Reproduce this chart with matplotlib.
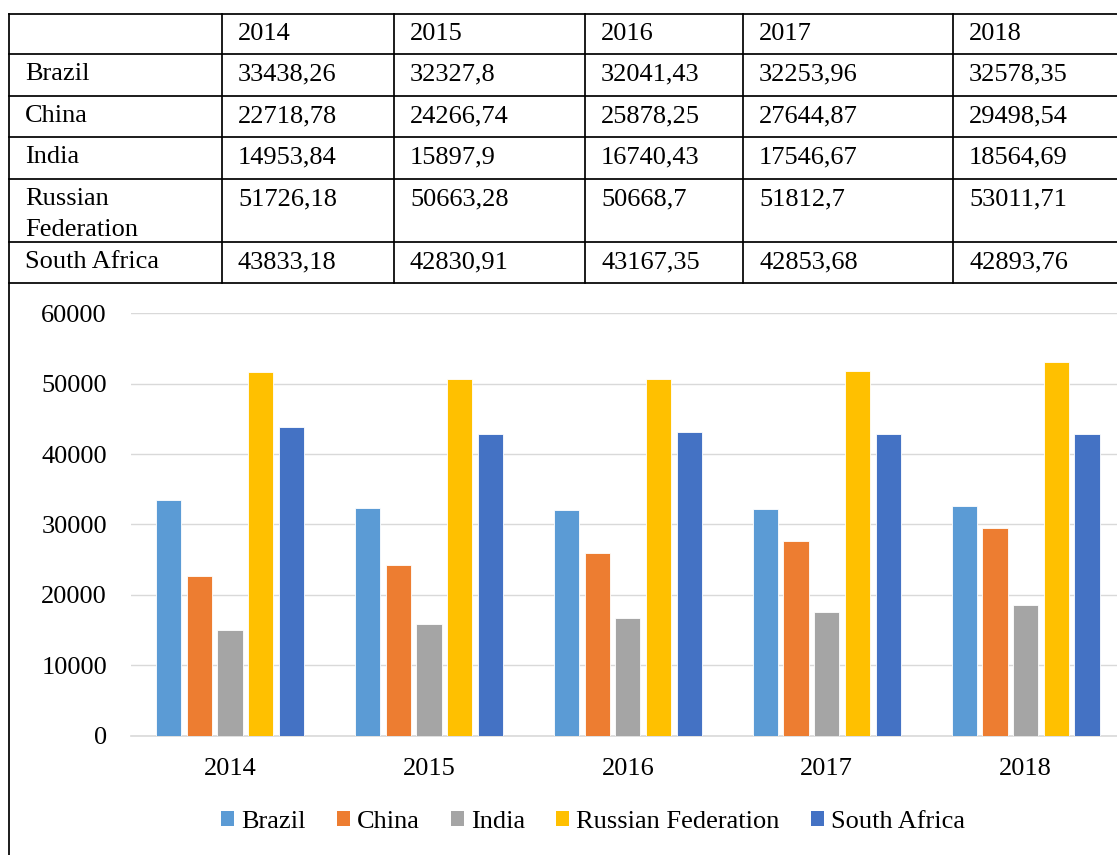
import matplotlib
matplotlib.use("Agg")
import numpy as np
import matplotlib.pyplot as plt
from matplotlib.patches import Patch
from matplotlib.lines import Line2D

# data
years = ["2014", "2015", "2016", "2017", "2018"]
countries = ["Brazil", "China", "India", "Russian Federation", "South Africa"]
brazil = [33438.26, 32327.8, 32041.43, 32253.96, 32578.35]
china = [22718.78, 24266.74, 25878.25, 27644.87, 29498.54]
india = [14953.84, 15897.9, 16740.43, 17546.67, 18564.69]
russia = [51726.18, 50663.28, 50668.7, 51812.7, 53011.71]
south_africa = [43833.18, 42830.91, 43167.35, 42853.68, 42893.76]
yticks = [0, 10000, 20000, 30000, 40000, 50000, 60000]

series = [brazil, china, india, russia, south_africa]
colors = ["#5B9BD5", "#ED7D31", "#A5A5A5", "#FFC000", "#4472C4"]

W, H = 1117, 855
FONT = "Liberation Serif"
FS = 19

fig = plt.figure(figsize=(W / 100, H / 100), dpi=100)


def fx(x):
    return x / W


def fy(y):
    return 1 - y / H


def fmt(v):
    s = f"{v:.2f}".rstrip("0").rstrip(".")
    return s.replace(".", ",")


# ---- table drawn in figure pixels
col_x = [9, 222, 394, 585, 743, 953]
row_y = [14, 54, 96, 137, 179, 242, 283]
lw = 1.25

for y in row_y:
    fig.add_artist(Line2D([fx(9), fx(W + 5)], [fy(y), fy(y)], color="black", lw=lw))
for x in col_x[1:]:
    fig.add_artist(Line2D([fx(x), fx(x)], [fy(14), fy(283)], color="black", lw=lw))
# left border of table + chart box
fig.add_artist(Line2D([fx(9), fx(9)], [fy(14), fy(H + 5)], color="black", lw=lw))

pad = 16
for j, yr in enumerate(years):
    fig.text(fx(col_x[j + 1] + pad), fy(row_y[0] + 26), yr,
             family=FONT, fontsize=FS, va="baseline", ha="left")

for i, name in enumerate(countries):
    base = row_y[i + 1] + 26
    if name == "Russian Federation":
        fig.text(fx(col_x[0] + pad), fy(base), "Russian",
                 family=FONT, fontsize=FS, va="baseline")
        fig.text(fx(col_x[0] + pad), fy(base + 31), "Federation",
                 family=FONT, fontsize=FS, va="baseline")
    else:
        fig.text(fx(col_x[0] + pad), fy(base), name,
                 family=FONT, fontsize=FS, va="baseline")
    for j, v in enumerate(series[i]):
        fig.text(fx(col_x[j + 1] + pad), fy(base), fmt(v),
                 family=FONT, fontsize=FS, va="baseline")

# ---- bar chart
ax_left, ax_right = 130.6, 130.6 + 5 * 198.9
ax_top, ax_bot = 313.3, 735.5
ax = fig.add_axes([fx(ax_left), fy(ax_bot), (ax_right - ax_left) / W, (ax_bot - ax_top) / H])

x = np.arange(len(years))
step = 0.1543
bw = 0.127
for i, (vals, c) in enumerate(zip(series, colors)):
    ax.bar(x + (i - 2) * step, vals, width=bw, color=c, edgecolor="white",
           linewidth=0.6, zorder=3, label=countries[i])

ax.set_xlim(-0.5, 4.5)
ax.set_ylim(0, 60000)
ax.set_yticks(yticks)
ax.set_yticklabels([str(t) for t in yticks], family=FONT, fontsize=FS)
ax.set_xticks(x)
ax.set_xticklabels(years, family=FONT, fontsize=FS)
ax.tick_params(axis="y", length=0, pad=17)
ax.tick_params(axis="x", length=0, pad=16)
ax.grid(axis="y", color="#D9D9D9", lw=1.0, zorder=0)
for s in ["top", "right", "left"]:
    ax.spines[s].set_visible(False)
ax.spines["bottom"].set_color("#D9D9D9")
ax.spines["bottom"].set_linewidth(1.2)

handles = [Patch(facecolor=c, edgecolor="none", label=n) for c, n in zip(colors, countries)]
fig.legend(handles=handles, loc="center", bbox_to_anchor=(fx(593), fy(822)),
           ncol=5, frameon=False, prop={"family": FONT, "size": FS},
           handlelength=0.5, handleheight=0.5, handletextpad=0.26,
           columnspacing=1.18, borderaxespad=0, borderpad=0)

fig.savefig("out.png", dpi=100)
